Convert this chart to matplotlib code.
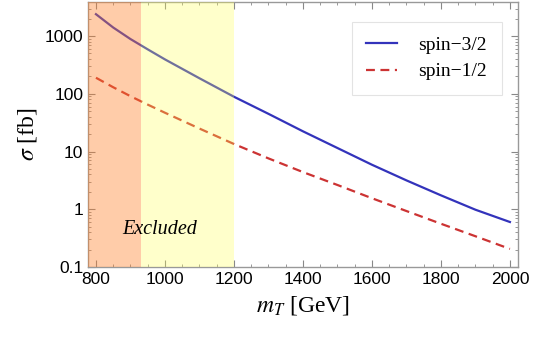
import numpy as np
import matplotlib.pyplot as plt
from matplotlib.ticker import FixedLocator, LogLocator, NullFormatter, MultipleLocator

# Cross sections
mass = [800, 850, 900, 950, 1000, 1100, 1200, 1300, 1400, 1500, 1600, 1700, 1800, 1900, 2000]
sigma_32 = [2400, 1410, 890, 590, 395, 186, 89, 45, 22.4, 11.5, 5.9, 3.16, 1.74, 0.98, 0.60]
sigma_12 = [190, 130, 91, 65, 47, 25, 13.5, 7.6, 4.4, 2.63, 1.55, 0.93, 0.56, 0.34, 0.205]

excl_strong = 930
excl_weak = 1200
y_ticks = [0.1, 1, 10, 100, 1000]
y_labels = ["0.1", "1", "10", "100", "1000"]

plt.rcParams['mathtext.fontset'] = 'stix'

fig = plt.figure(figsize=(5.4, 3.37), dpi=100)
ax = fig.add_axes([0.163, 0.208, 0.796, 0.786])

ax.plot(mass, sigma_32, color='#3333bb', lw=1.6, label='spin\u22123/2')
ax.plot(mass, sigma_12, color='#cc3333', lw=1.6, ls=(0, (4, 2.5)), label='spin\u22121/2')

# Excluded regions drawn over the curves
ax.axvspan(700, excl_strong, color=(1.0, 0.5, 0.165), alpha=0.4, lw=0, zorder=3)
ax.axvspan(excl_strong, excl_weak, color=(1.0, 1.0, 0.333), alpha=0.3, lw=0, zorder=3)

ax.text(985, 0.44, 'Excluded', family='Liberation Serif', style='italic',
        fontsize=14.5, ha='center', va='center', zorder=4)

ax.set_yscale('log')
ax.set_xlim(777, 2023)
ax.set_ylim(0.1, 3900)

ax.yaxis.set_major_locator(FixedLocator(y_ticks))
ax.set_yticklabels(y_labels)
ax.yaxis.set_minor_locator(LogLocator(base=10, subs=np.arange(2, 10)))
ax.yaxis.set_minor_formatter(NullFormatter())
ax.xaxis.set_major_locator(MultipleLocator(200))
ax.xaxis.set_minor_locator(MultipleLocator(50))

ax.tick_params(which='both', direction='in', top=True, right=True, color='#888888')
ax.tick_params(which='major', length=5, width=0.8)
ax.tick_params(which='minor', length=2.5, width=0.6)
for lab in ax.get_xticklabels() + ax.get_yticklabels():
    lab.set_family('Liberation Sans')
    lab.set_fontsize(12.5)
for sp in ax.spines.values():
    sp.set_color('#999999')
    sp.set_linewidth(1.0)

ax.set_xlabel(r'$m_T$ [GeV]', fontsize=17, family='Liberation Serif', labelpad=5)
ax.set_ylabel(r'$\sigma$ [fb]', fontsize=17, family='Liberation Serif', labelpad=4)

leg = ax.legend(loc='upper right', bbox_to_anchor=(0.963, 0.925), frameon=True,
                fancybox=False, prop={'family': 'Liberation Serif', 'size': 14},
                handlelength=1.6, handletextpad=1.1, borderpad=0.75, labelspacing=0.45,
                borderaxespad=0)
leg.get_frame().set_edgecolor('#dddddd')
leg.get_frame().set_linewidth(0.8)
leg.set_zorder(5)

fig.savefig('out.png', dpi=100)
